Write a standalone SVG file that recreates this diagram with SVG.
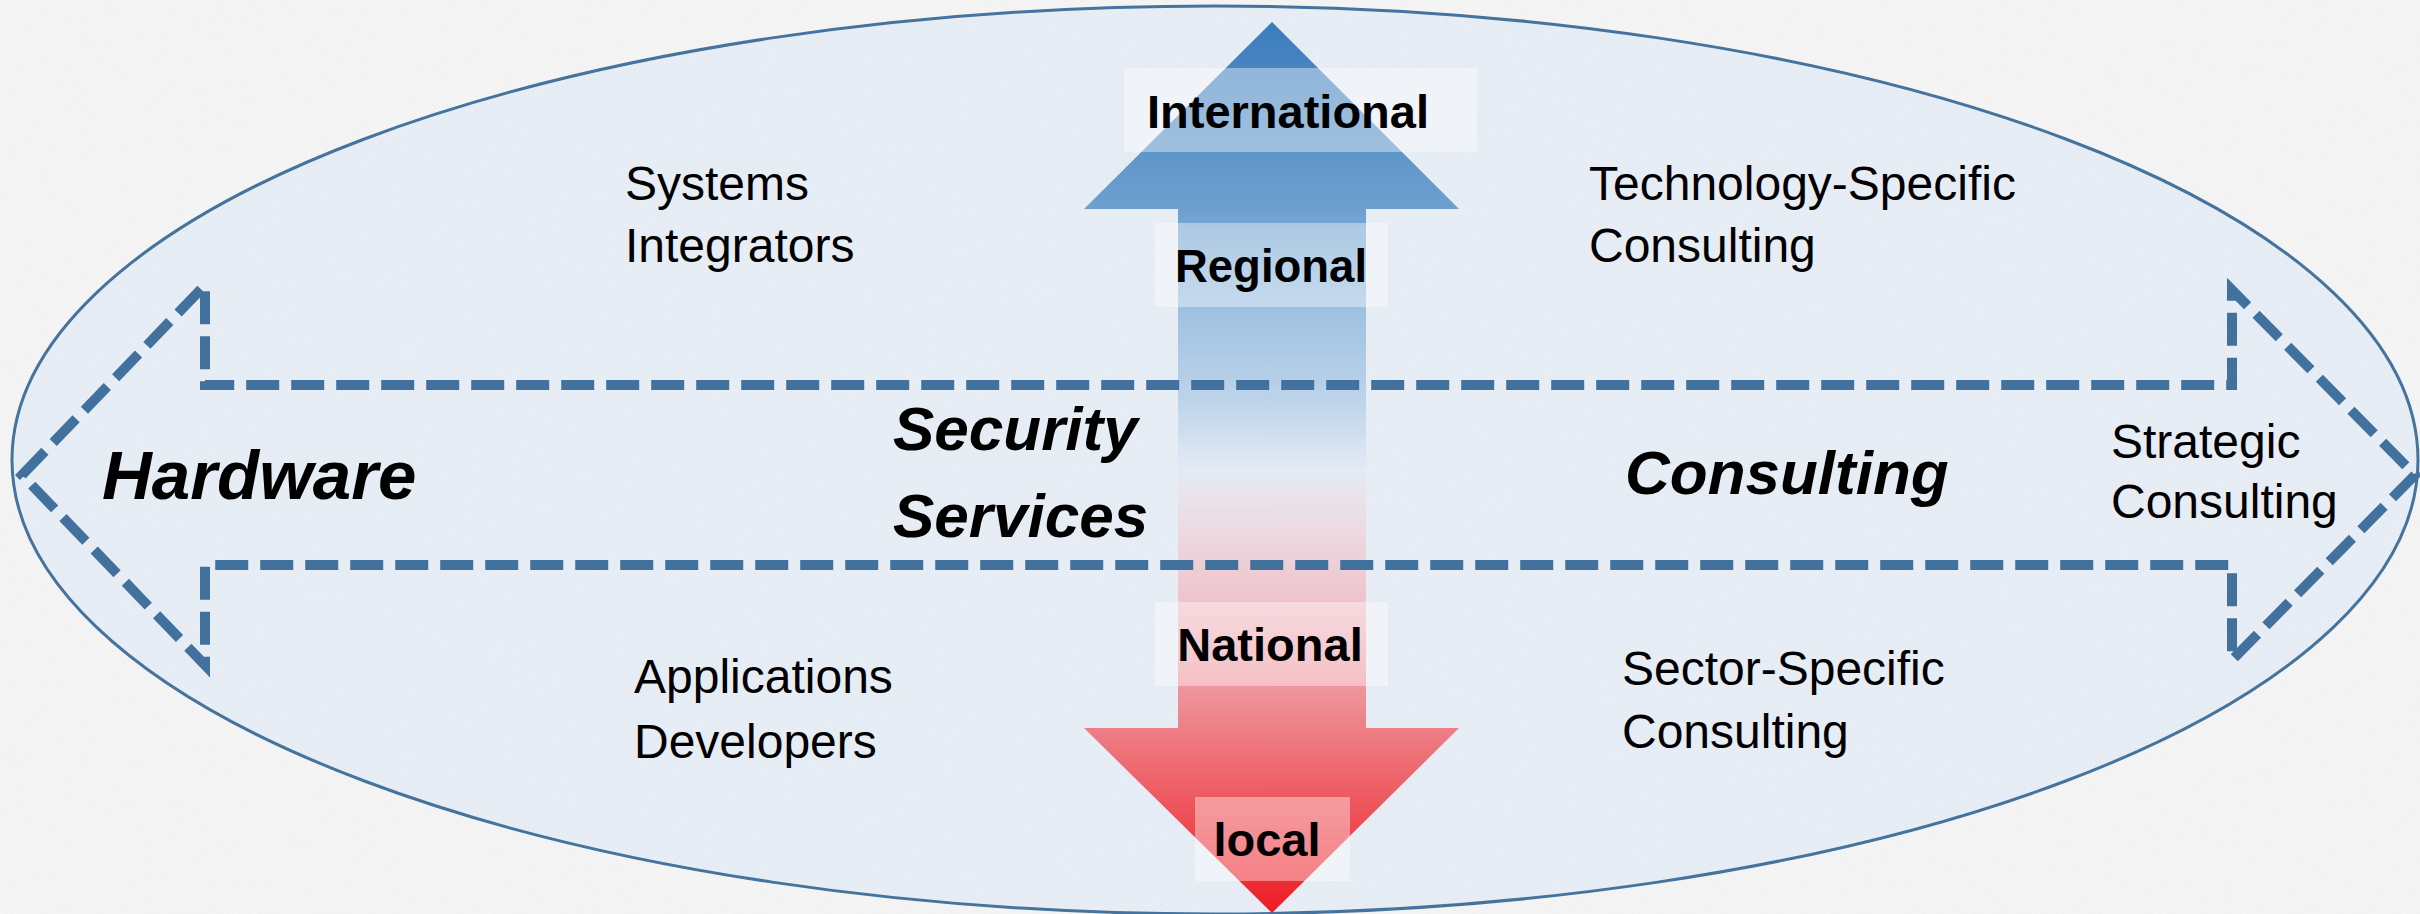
<svg xmlns="http://www.w3.org/2000/svg" width="2420" height="914" viewBox="0 0 2420 914">
<style>
.reg{font-family:"Liberation Sans",Arial,sans-serif;font-size:48px;fill:#000}
.bi{font-family:"Liberation Sans",Arial,sans-serif;font-weight:bold;font-style:italic;font-size:62px;fill:#000}
.lvl{font-family:"Liberation Sans",Arial,sans-serif;font-weight:bold;font-size:47px;fill:#000;text-anchor:middle}
.box{fill:#ffffff;fill-opacity:0.4}
.dash{fill:none;stroke:#41719C;stroke-width:10;stroke-dasharray:33 12;stroke-linejoin:miter}
</style>
<defs>
<linearGradient id="vgrad" gradientUnits="userSpaceOnUse" x1="0" y1="22" x2="0" y2="913">
<stop offset="0" stop-color="#3a7cbd"/>
<stop offset="0.144" stop-color="#5f95c8"/>
<stop offset="0.21" stop-color="#6ea0cf"/>
<stop offset="0.312" stop-color="#9cbfe0"/>
<stop offset="0.424" stop-color="#bcd3ea"/>
<stop offset="0.503" stop-color="#e4ebf4"/>
<stop offset="0.559" stop-color="#ecdde4"/>
<stop offset="0.649" stop-color="#efc3cb"/>
<stop offset="0.75" stop-color="#ee949b"/>
<stop offset="0.85" stop-color="#ee636a"/>
<stop offset="1" stop-color="#ee1c24"/>
</linearGradient>
<filter id="grain" x="0" y="0" width="100%" height="100%">
<feTurbulence type="fractalNoise" baseFrequency="0.7" numOctaves="2" seed="4"/>
<feColorMatrix type="matrix" values="0 0 0 0 0.55  0 0 0 0 0.55  0 0 0 0 0.58  0.3 0 0 0 -0.1"/>
</filter>
</defs>
<rect x="0" y="0" width="2420" height="914" fill="#f5f5f5"/>
<g id="ellipse">
<ellipse cx="1215" cy="460" rx="1203" ry="454" fill="#e8eef6" stroke="#41719C" stroke-width="3"/>
</g>
<rect x="0" y="0" width="2420" height="914" filter="url(#grain)" opacity="0.6"/>
<g id="vertical-arrow">
<path d="M1272,22 L1459,209 L1366,209 L1366,728 L1459,728 L1272,913 L1084,728 L1178,728 L1178,209 L1084,209 Z" fill="url(#vgrad)"/>
</g>
<g id="connectors">
<path class="dash" d="M22,475 L205,285 L205,385 L2232,385 L2232,290 L2415,475 L2232,660 L2232,565 L205,565 L205,665 Z"/>
</g>
<g id="level-international">
<rect class="box" x="1124" y="68" width="353" height="84"/>
<text class="lvl" x="1288" y="128">International</text>
</g>
<g id="level-regional">
<rect class="box" x="1155" y="223" width="233" height="84"/>
<text class="lvl" x="1271" y="282" style="font-size:45.5px">Regional</text>
</g>
<g id="level-national">
<rect class="box" x="1155" y="602" width="233" height="84"/>
<text class="lvl" x="1270" y="661">National</text>
</g>
<g id="level-local">
<rect class="box" x="1195" y="797" width="155" height="84"/>
<text class="lvl" x="1267" y="856">local</text>
</g>
<g id="hardware">
<text class="bi" x="102" y="499" style="font-size:69px">Hardware</text>
</g>
<g id="security-services">
<text class="bi" x="893" y="450">Security</text>
<text class="bi" x="893" y="537">Services</text>
</g>
<g id="consulting">
<text class="bi" x="1625" y="494">Consulting</text>
</g>
<g id="systems-integrators">
<text class="reg" x="625" y="200">Systems</text>
<text class="reg" x="625" y="262">Integrators</text>
</g>
<g id="technology-specific">
<text class="reg" x="1589" y="200">Technology-Specific</text>
<text class="reg" x="1589" y="262">Consulting</text>
</g>
<g id="strategic">
<text class="reg" x="2111" y="458">Strategic</text>
<text class="reg" x="2111" y="518">Consulting</text>
</g>
<g id="applications-developers">
<text class="reg" x="634" y="693">Applications</text>
<text class="reg" x="634" y="758">Developers</text>
</g>
<g id="sector-specific">
<text class="reg" x="1622" y="685">Sector-Specific</text>
<text class="reg" x="1622" y="748">Consulting</text>
</g>
</svg>
